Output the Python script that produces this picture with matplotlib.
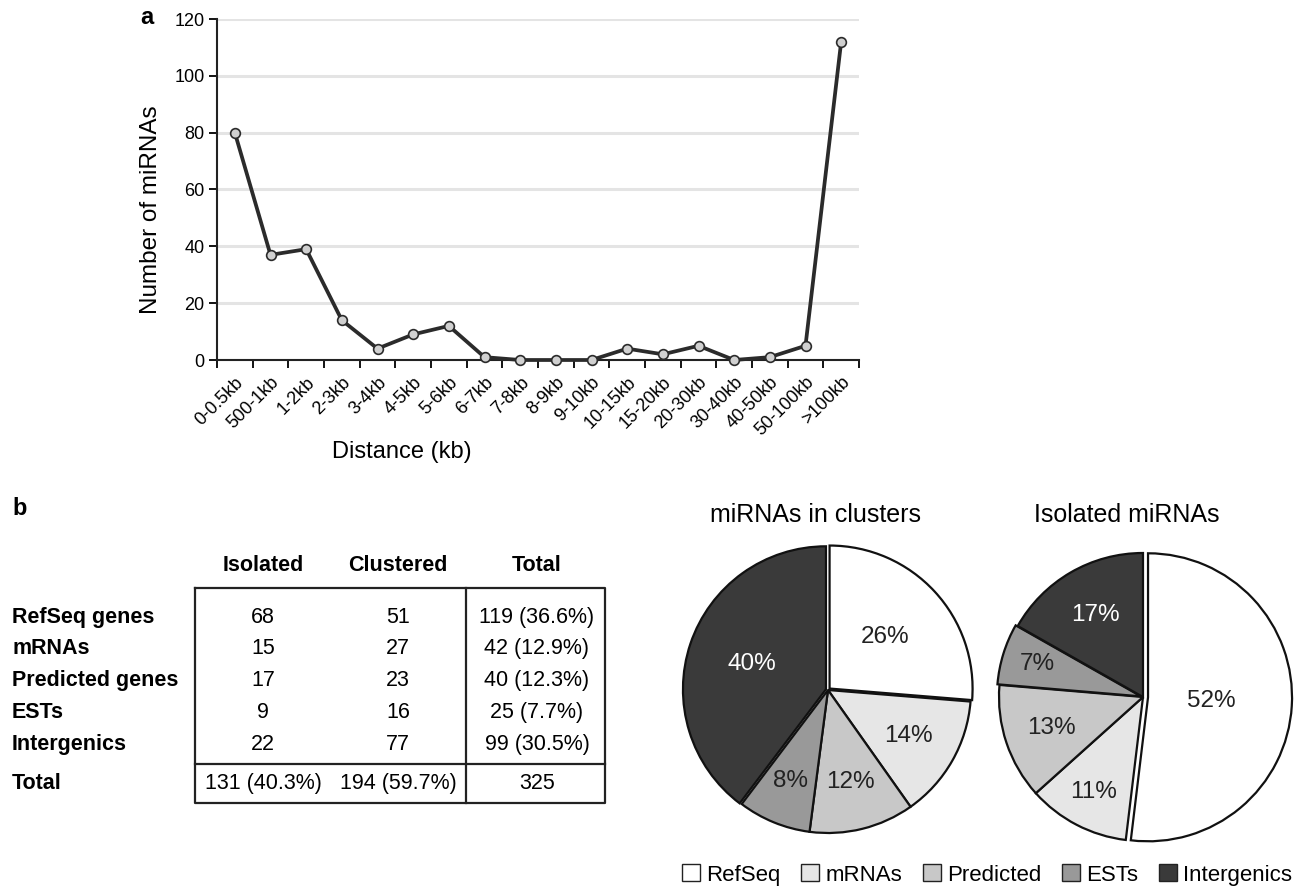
import numpy as np
import matplotlib
matplotlib.use('Agg')
import matplotlib.pyplot as plt
from matplotlib.patches import Patch

plt.rcParams['font.family'] = ['Liberation Sans', 'DejaVu Sans']

# panel a data
distance_bins = ['0-0.5kb', '500-1kb', '1-2kb', '2-3kb', '3-4kb', '4-5kb', '5-6kb',
                 '6-7kb', '7-8kb', '8-9kb', '9-10kb', '10-15kb', '15-20kb',
                 '20-30kb', '30-40kb', '40-50kb', '50-100kb', '>100kb']
mirna_counts = [80, 37, 39, 14, 4, 9, 12, 1, 0, 0, 0, 4, 2, 5, 0, 1, 5, 112]

# panel b data
categories = ['RefSeq genes', 'mRNAs', 'Predicted genes', 'ESTs', 'Intergenics']
legend_names = ['RefSeq', 'mRNAs', 'Predicted', 'ESTs', 'Intergenics']
isolated = [68, 15, 17, 9, 22]
clustered = [51, 27, 23, 16, 77]
slice_colors = ['#ffffff', '#e6e6e6', '#c8c8c8', '#999999', '#3a3a3a']

W, H = 1295, 888
fig = plt.figure(figsize=(W / 100, H / 100), dpi=100)

# ---- panel a: line chart ----
ax = fig.add_axes([217 / W, 1 - 360 / H, 642 / W, 341 / H])
x = np.arange(len(distance_bins))
ax.plot(x, mirna_counts, color='#2b2b2b', linewidth=2.7, marker='o',
        markersize=7, markerfacecolor='#d0d0d0', markeredgecolor='#2b2b2b',
        markeredgewidth=1.2, zorder=3, clip_on=False)
ax.set_xlim(-0.5, len(distance_bins) - 0.5)
ax.set_ylim(0, 120)
ax.set_yticks(np.arange(0, 121, 20))
ax.yaxis.grid(True, color='#e4e4e4', linewidth=2.2)
ax.set_axisbelow(True)
ax.set_xticks(x)
ax.set_xticklabels(distance_bins, rotation=45, ha='right', rotation_mode='anchor')
ax.set_xticks(np.arange(-0.5, len(distance_bins)), minor=True)
ax.tick_params(axis='x', which='major', length=0, pad=10, labelsize=13)
ax.tick_params(axis='x', which='minor', length=6, width=1.3, direction='out')
ax.tick_params(axis='y', length=6, width=1.3, labelsize=13, pad=3)
for s in ['top', 'right']:
    ax.spines[s].set_visible(False)
for s in ['left', 'bottom']:
    ax.spines[s].set_linewidth(1.5)
    ax.spines[s].set_color('#222222')
ax.set_xlabel('Distance (kb)', fontsize=17)
ax.xaxis.set_label_coords((402 - 217) / 642, -0.237)
ax.set_ylabel('Number of miRNAs', fontsize=17.5)
ax.yaxis.set_label_coords(-0.086, 0.44)

# ---- overlay for table, panel letters, titles ----
ov = fig.add_axes([0, 0, 1, 1])
ov.set_xlim(0, W)
ov.set_ylim(H, 0)
ov.axis('off')
ov.text(147, 17, 'a', fontsize=17, fontweight='bold', ha='center', va='center')
ov.text(20, 508, 'b', fontsize=17, fontweight='bold', ha='center', va='center')

total_all = sum(isolated) + sum(clustered)
col_x = [263, 398, 537]
row_y = [617, 648, 680, 712, 744]
tfs = 15.5
for cx, name in zip(col_x, ['Isolated', 'Clustered', 'Total']):
    ov.text(cx, 565, name, fontsize=tfs, fontweight='bold', ha='center', va='center')
for ry, cat, iso, clu in zip(row_y, categories, isolated, clustered):
    tot = iso + clu
    ov.text(12, ry, cat, fontsize=tfs, fontweight='bold', ha='left', va='center')
    ov.text(col_x[0], ry, str(iso), fontsize=tfs, ha='center', va='center')
    ov.text(col_x[1], ry, str(clu), fontsize=tfs, ha='center', va='center')
    ov.text(col_x[2], ry, f'{tot} ({100 * tot / total_all:.1f}%)', fontsize=tfs,
            ha='center', va='center')
ov.text(12, 783, 'Total', fontsize=tfs, fontweight='bold', ha='left', va='center')
ov.text(col_x[0], 783, f'{sum(isolated)} ({100 * sum(isolated) / total_all:.1f}%)',
        fontsize=tfs, ha='center', va='center')
ov.text(col_x[1], 783, f'{sum(clustered)} ({100 * sum(clustered) / total_all:.1f}%)',
        fontsize=tfs, ha='center', va='center')
ov.text(col_x[2], 783, str(total_all), fontsize=tfs, ha='center', va='center')
lc = '#222222'
ov.plot([195, 605, 605, 195, 195], [588, 588, 803, 803, 588], color=lc, lw=1.6)
ov.plot([466, 466], [588, 803], color=lc, lw=1.6)
ov.plot([195, 605], [764, 764], color=lc, lw=1.6)

ov.text(815, 515, 'miRNAs in clusters', fontsize=18, ha='center', va='center')
ov.text(1127, 515, 'Isolated miRNAs', fontsize=18, ha='center', va='center')


# ---- pies ----
def draw_pie(cx, cy, r, values, explode, label_r):
    side = 2.4 * r
    pax = fig.add_axes([(cx - side / 2) / W, 1 - (cy + side / 2) / H, side / W, side / H])
    wedges, _, autotexts = pax.pie(values, colors=slice_colors, startangle=90,
                                   counterclock=False, explode=explode,
                                   autopct='%.0f%%', pctdistance=1.0,
                                   wedgeprops=dict(edgecolor='#111111', linewidth=1.6))
    pax.set_xlim(-1.2, 1.2)
    pax.set_ylim(-1.2, 1.2)
    for t, c, e, f in zip(autotexts, slice_colors, explode, label_r):
        p = np.array(t.get_position())
        d = p / np.linalg.norm(p)
        t.set_position((e + f) * d)
        t.set_fontsize(17.5)
        t.set_color('white' if c == '#3a3a3a' else '#222222')


draw_pie(828, 690, 143, clustered, [0.015, 0.0, 0.0, 0.0, 0.015],
         [0.53, 0.65, 0.66, 0.69, 0.55])
draw_pie(1143, 697, 144, isolated, [0.035, 0.0, 0.0, 0.015, 0.0],
         [0.44, 0.74, 0.67, 0.75, 0.66])

handles = [Patch(facecolor=c, edgecolor='#222222', linewidth=1.0) for c in slice_colors]
fig.legend(handles, legend_names, loc='center', bbox_to_anchor=(987 / W, 1 - 875 / H),
           ncol=5, frameon=False, fontsize=16, handlelength=0.8, handleheight=0.8,
           handletextpad=0.27, columnspacing=0.95, borderaxespad=0, borderpad=0)

fig.savefig('out.png', dpi=100)
